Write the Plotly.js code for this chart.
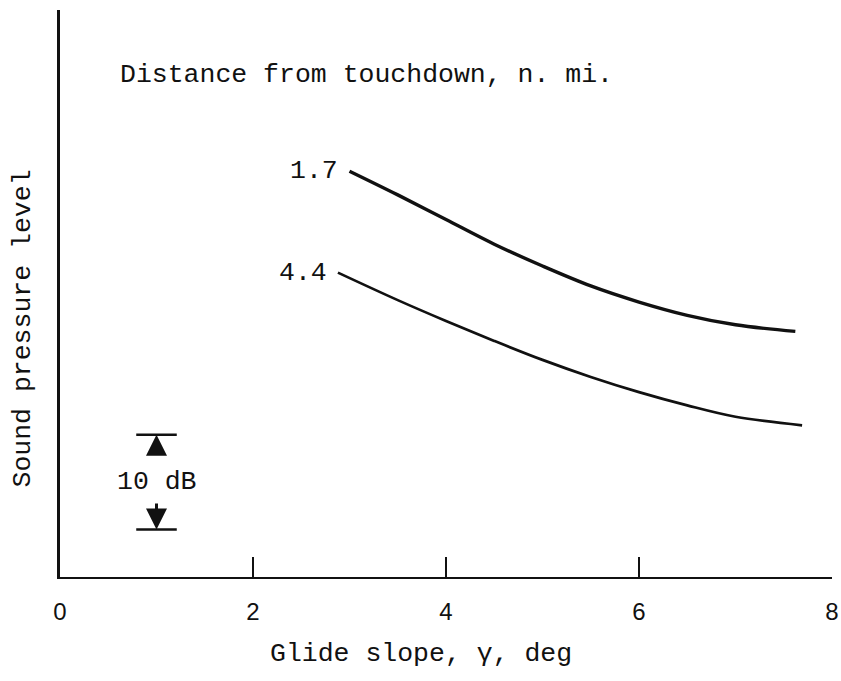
<!DOCTYPE html>
<html>
<head>
<meta charset="utf-8">
<script src="https://cdn.plot.ly/plotly-3.0.1.min.js"></script>
<style>html,body{margin:0;padding:0;background:#fff;} #chart{width:841px;height:681px;}</style>
</head>
<body>
<div id="chart"></div>
<script>
// Glide slope (deg) and relative sound pressure level (dB) for each distance
const slope_17 = [3.0, 3.5, 4.0, 4.5, 5.0, 5.5, 6.0, 6.5, 7.0, 7.62];
const spl_17   = [42.8, 40.3, 37.7, 35.1, 32.8, 30.7, 29.0, 27.6, 26.6, 25.9];
const slope_44 = [2.88, 3.5, 4.0, 4.5, 5.0, 5.5, 6.0, 6.5, 7.0, 7.69];
const spl_44   = [32.1, 29.2, 27.0, 24.9, 22.9, 21.1, 19.5, 18.1, 16.9, 16.0];
const distanceLabels = ["1.7", "4.4"];
const xTickVals = [0, 2, 4, 6, 8];
const xTickText = ["0", "2", "4", "6", "8"];
// 10 dB scale bar
const scaleBarX = 1;
const scaleBarHalfWidth = 0.21;
const scaleBarLevels = [5, 15];

const mono = "Liberation Mono, Courier New, monospace";
const black = "#111";

const traces = [
  {x: slope_17, y: spl_17, mode: "lines", line: {color: black, width: 3.4, shape: "spline"}, showlegend: false, hoverinfo: "skip"},
  {x: slope_44, y: spl_44, mode: "lines", line: {color: black, width: 2.7, shape: "spline"}, showlegend: false, hoverinfo: "skip"},
  {x: [scaleBarX - scaleBarHalfWidth, scaleBarX + scaleBarHalfWidth], y: [scaleBarLevels[1], scaleBarLevels[1]], mode: "lines", line: {color: black, width: 2.5}, showlegend: false, hoverinfo: "skip"},
  {x: [scaleBarX - scaleBarHalfWidth, scaleBarX + scaleBarHalfWidth], y: [scaleBarLevels[0], scaleBarLevels[0]], mode: "lines", line: {color: black, width: 2.5}, showlegend: false, hoverinfo: "skip"}
];

const layout = {
  width: 841, height: 681,
  margin: {l: 60, r: 9, t: 10, b: 104},
  paper_bgcolor: "#fff", plot_bgcolor: "#fff",
  showlegend: false,
  xaxis: {
    range: [0, 8], showgrid: false, zeroline: false,
    showline: true, linecolor: black, linewidth: 2,
    ticks: "inside", ticklen: 20, tickwidth: 2, tickcolor: black,
    tickvals: xTickVals, ticktext: xTickText, ticklabelstandoff: 12,
    tickfont: {family: "Liberation Sans, Arial, sans-serif", size: 24, color: black},
    fixedrange: true
  },
  yaxis: {
    range: [0, 59.8], showgrid: false, zeroline: false,
    showline: true, linecolor: black, linewidth: 3,
    ticks: "", showticklabels: false, fixedrange: true
  },
  annotations: [
    {text: "Distance from touchdown, n. mi.", x: 0.6, y: 52.9, xref: "x", yref: "y", xanchor: "left", yanchor: "middle", showarrow: false, font: {family: mono, size: 26.5, color: black}},
    {text: distanceLabels[0], x: 2.9, y: 42.8, xref: "x", yref: "y", xanchor: "right", yanchor: "middle", showarrow: false, font: {family: mono, size: 26.5, color: black}},
    {text: distanceLabels[1], x: 2.79, y: 32.1, xref: "x", yref: "y", xanchor: "right", yanchor: "middle", showarrow: false, font: {family: mono, size: 26.5, color: black}},
    {text: "10 dB", x: scaleBarX, y: 10, xref: "x", yref: "y", xanchor: "center", yanchor: "middle", showarrow: false, font: {family: mono, size: 26.5, color: black}},
    {text: "", x: scaleBarX, y: scaleBarLevels[1], ax: scaleBarX, ay: scaleBarLevels[1] - 2.3, xref: "x", yref: "y", axref: "x", ayref: "y", showarrow: true, arrowhead: 2, arrowsize: 1.4, arrowwidth: 3, arrowcolor: black},
    {text: "", x: scaleBarX, y: scaleBarLevels[0], ax: scaleBarX, ay: scaleBarLevels[0] + 2.9, xref: "x", yref: "y", axref: "x", ayref: "y", showarrow: true, arrowhead: 2, arrowsize: 1.4, arrowwidth: 3, arrowcolor: black},
    {text: "Sound pressure level", x: -0.048, y: 26.2, xref: "paper", yref: "y", xanchor: "center", yanchor: "middle", textangle: -90, showarrow: false, font: {family: mono, size: 26.5, color: black}},
    {text: "Glide slope, γ, deg", x: 3.74, y: -0.1356, xref: "x", yref: "paper", xanchor: "center", yanchor: "middle", showarrow: false, font: {family: mono, size: 26.5, color: black}}
  ]
};

Plotly.newPlot("chart", traces, layout, {displayModeBar: false, staticPlot: true});
</script>
</body>
</html>
